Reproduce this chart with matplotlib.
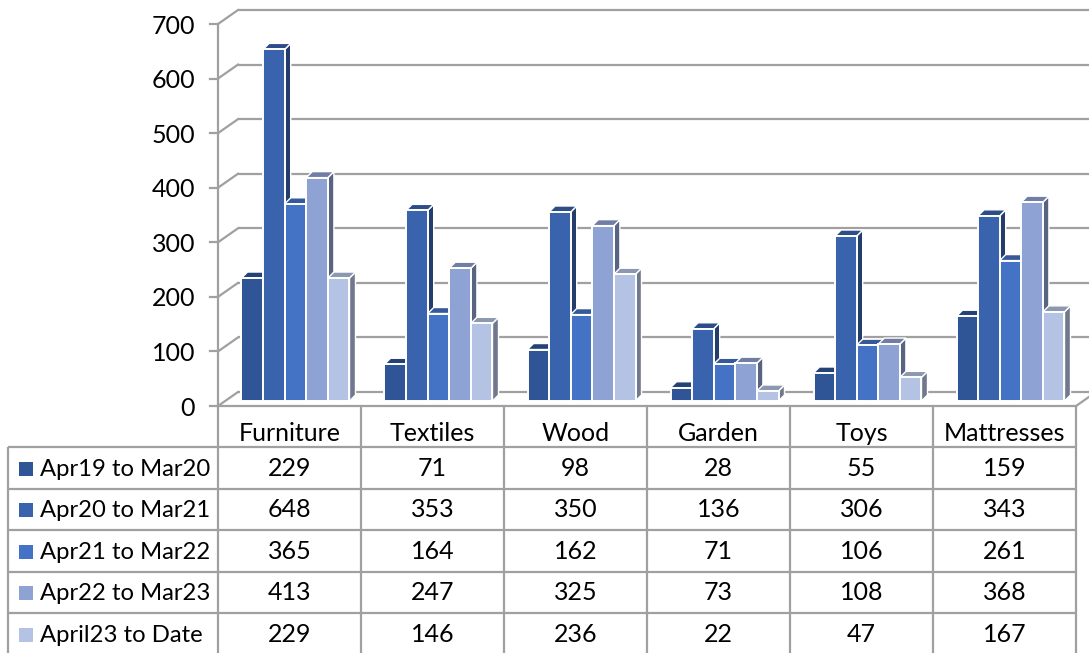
import numpy as np
import matplotlib
matplotlib.use("Agg")
import matplotlib.pyplot as plt
from matplotlib.patches import Polygon

# ---------------- data ----------------
categories = ["Furniture", "Textiles", "Wood", "Garden", "Toys", "Mattresses"]
series_names = ["Apr19 to Mar20", "Apr20 to Mar21", "Apr21 to Mar22",
                "Apr22 to Mar23", "April23 to Date"]
apr19_mar20 = [229, 71, 98, 28, 55, 159]
apr20_mar21 = [648, 353, 350, 136, 306, 343]
apr21_mar22 = [365, 164, 162, 71, 106, 261]
apr22_mar23 = [413, 247, 325, 73, 108, 368]
april23_date = [229, 146, 236, 22, 47, 167]
series_values = [apr19_mar20, apr20_mar21, apr21_mar22, apr22_mar23, april23_date]
y_ticks = [0, 100, 200, 300, 400, 500, 600, 700]

# ---------------- style ----------------
colors = ["#2F5597", "#3A63AE", "#4472C4", "#8FA2D4", "#B4C2E3"]
grid_col = "#A0A0A0"
FONT = "Lato"
FS = 18
FS_LEG = 17.2

def shade(hexcol, f):
    c = np.array(matplotlib.colors.to_rgb(hexcol))
    return tuple(np.clip(c * f, 0, 1))

W, H = 1089, 653
fig = plt.figure(figsize=(W / 100, H / 100), dpi=100)

# layout (pixels)
x_left = 218.0          # front left edge of plot floor
col_w = 143.0           # pixels per category
y_zero = 406.0          # front zero line (from top)
y_top = 24.0            # front 700 line (from top)
vs = (y_zero - y_top) / 700.0   # px per value unit

ax = fig.add_axes([0, 0, 1, 1])
ax.set_xlim(-0.5 - x_left / col_w, 5.5 + (W - x_left - 6 * col_w) / col_w)
ax.set_ylim(-(H - y_zero) / vs, 700 + y_top / vs)
ax.axis("off")

# depth offsets (data units)
dxb, dyb = 20 / col_w, 14 / vs      # back wall
dxf, dyf = 6 / col_w, 3 / vs        # bar front plane
dxd, dyd = 6 / col_w, 6 / vs        # bar depth
base = 5 / vs                       # visible bottom of bars
bw = 21.6 / col_w                   # bar width

# walls & gridlines
for t in y_ticks:
    ax.plot([-0.5 + dxb, 5.5 + dxb], [t + dyb, t + dyb], color=grid_col, lw=1.6,
            zorder=1, solid_capstyle="butt")
    ax.plot([-0.5, -0.5 + dxb], [t, t + dyb], color=grid_col, lw=1.6, zorder=1)
    ax.plot([-0.5 - 8 / col_w, -0.5], [t, t], color=grid_col, lw=1.6, zorder=1)
    ax.text(-0.5 - 23 / col_w, t - 2 / vs, str(t), ha="right", va="center",
            fontsize=FS, family=FONT, color="black")
ax.plot([-0.5, -0.5], [0, 700], color=grid_col, lw=1.6, zorder=1)
ax.plot([-0.5, 5.5], [0, 0], color=grid_col, lw=1.6, zorder=1)
ax.plot([5.5, 5.5 + dxb], [0, dyb], color=grid_col, lw=1.6, zorder=1)

# bars
z = 2
ns = len(series_values)
for ci in range(len(categories)):
    for si in range(ns):
        v = series_values[si][ci]
        xl = ci + (si - ns / 2) * bw + dxf
        xr = xl + bw
        b = base
        t = dyf + v
        col = colors[si]
        side = Polygon([(xr, b), (xr + dxd, b + dyd), (xr + dxd, t + dyd), (xr, t)],
                       closed=True, facecolor=shade(col, 0.62), edgecolor="white",
                       lw=1.0, zorder=z)
        top = Polygon([(xl, t), (xr, t), (xr + dxd, t + dyd), (xl + dxd, t + dyd)],
                      closed=True, facecolor=shade(col, 0.78), edgecolor="white",
                      lw=1.0, zorder=z)
        front = Polygon([(xl, b), (xr, b), (xr, t), (xl, t)], closed=True,
                        facecolor=col, edgecolor="white", lw=1.4, zorder=z + 0.5)
        ax.add_patch(side)
        ax.add_patch(top)
        ax.add_patch(front)
        z += 1

# ---------------- data table ----------------
tab = fig.add_axes([0, 0, 1, 1])
tab.set_xlim(0, W)
tab.set_ylim(H, 0)
tab.axis("off")

leg_left = 8.0
row_top = 447.0
row_h = 41.6
x_right = x_left + 6 * col_w
lkw = dict(color=grid_col, lw=1.6, solid_capstyle="butt")

for r in range(ns + 1):
    y = row_top + r * row_h
    tab.plot([leg_left, x_right], [y, y], **lkw)
tab.plot([leg_left, leg_left], [row_top, H], **lkw)
for c in range(7):
    x = x_left + c * col_w
    tab.plot([x, x], [y_zero, H], **lkw)

for c, name in enumerate(categories):
    tab.text(x_left + (c + 0.5) * col_w, 441, name, ha="center", va="baseline",
             fontsize=FS, family=FONT)

for r, (name, vals) in enumerate(zip(series_names, series_values)):
    yb = row_top + r * row_h + 28.5
    tab.add_patch(plt.Rectangle((19, yb - 14), 14, 14, facecolor=colors[r],
                                edgecolor="none"))
    tab.text(40, yb, name, ha="left", va="baseline", fontsize=FS_LEG, family=FONT)
    for c, v in enumerate(vals):
        tab.text(x_left + (c + 0.5) * col_w, yb, str(v), ha="center", va="baseline",
                 fontsize=FS, family=FONT)

fig.savefig("out.png", dpi=100, facecolor="white")
